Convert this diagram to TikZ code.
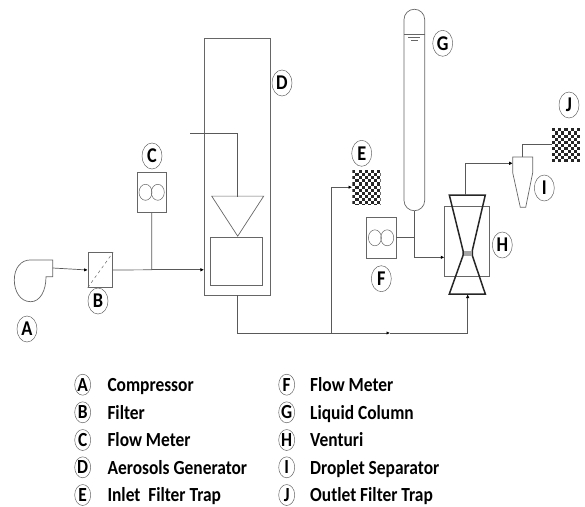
\documentclass[tikz,border=0pt]{standalone}
\usepackage{fontspec}
\setmainfont[FakeStretch=0.87]{Carlito}
\usetikzlibrary{arrows.meta, calc, positioning, shapes.geometric}

\tikzset{
	pipe/.style={draw=black!65, line width=0.7pt},
	flow/.style={pipe, -{Latex[length=3.5pt, width=3.5pt, black]}},
	unit/.style={draw=black!60, line width=0.7pt, inner sep=0pt},
	tag/.style={draw=black!60, line width=0.5pt, ellipse, inner sep=0pt, minimum width=20pt, minimum height=26pt, font=\bfseries\fontsize{21}{21}\selectfont},
	key/.style={tag, minimum width=16pt, minimum height=21pt, font=\bfseries\fontsize{20}{20}\selectfont},
	item/.style={inner sep=0pt, anchor=base west, font=\bfseries\fontsize{20}{20}\selectfont},
	trap/.style={inner sep=0pt, path picture={
		\foreach \i in {0,...,9}
		\foreach \j in {0,...,11}{
			\pgfmathtruncatemacro{\odd}{mod(\i+\j,2)}
			\ifnum\odd=0
			\fill[black!85] ($(path picture bounding box.north west)+(\i*3.1,\j*3.1)$) rectangle +(3.1,3.1);
			\fi
		}}},
}

\begin{document}
\begin{tikzpicture}[x=1pt, y=-1pt]
	\useasboundingbox (0,0) rectangle (585,506);
	
	% equipment
	\node[unit, minimum width=24.7pt, minimum height=34.6pt] (filter) at (100.4,270) {};
	\node[unit, minimum width=29.7pt, minimum height=40.7pt] (meterC) at (151.8,192.3) {};
	\node[unit, minimum width=66pt, minimum height=257pt] (generator) at (237.3,166.5) {};
	\node[unit, minimum width=52pt, minimum height=48.4pt] (chamber) at (236.3,261.5) {};
	\node[trap, minimum width=28.4pt, minimum height=34.3pt] (trapE) at (366.5,187.2) {};
	\node[unit, minimum width=29.7pt, minimum height=41pt] (meterF) at (381.2,237.8) {};
	\node[unit, minimum width=45pt, minimum height=70pt] (jacket) at (467.2,241.3) {};
	\node[trap, minimum width=27.7pt, minimum height=33pt] (trapJ) at (565.9,144.8) {};
	
	% compressor
	\draw[unit] (30,260) -- (52.7,260) -- (52.7,276.7) -- (46,276.7)
		.. controls (46,291) and (40,301.7) .. (30.7,301.7)
		.. controls (20,301.7) and (14.3,291) .. (14.3,280)
		.. controls (14.3,268) and (21,260) .. (30,260);
	\coordinate (outA) at (52.7,268);
	
	% filter element
	\draw[unit, dashed, line width=0.5pt] (filter.south west) -- (filter.north east);
	
	% rotors of the flow meters
	\foreach \m in {meterC, meterF}{
		\draw[unit, line width=0.5pt] ($(\m)+(-6.3,0)$) ellipse (6.5 and 8);
		\draw[unit, line width=0.5pt] ($(\m)+(6,0)$) ellipse (6.5 and 8);
	}
	
	% generator insides
	\node[unit, isosceles triangle, isosceles triangle apex angle=66, shape border rotate=90, yscale=-1, minimum height=40pt, minimum width=52pt, anchor=apex] (cone) at (237.7,236.8) {};
	\coordinate (feedD) at (190,133);
	
	% liquid column
	\draw[unit] (404,19.6) arc[start angle=180, end angle=360, radius=10.35]
		-- (424.7,200.4) arc[start angle=0, end angle=180, radius=10.35] -- cycle;
	\coordinate (columnG) at (414.3,210.7);
	\draw[unit, line width=0.5pt] (404,34.3) -- (424.7,34.3);
	\draw[unit, line width=0.5pt] (408.3,37.3) -- (420,37.3);
	\draw[unit, line width=0.5pt] (411,40) -- (418.3,40);
	
	% venturi
	\draw[black!85, line width=1.5pt, line join=miter] (449.3,195) coordinate (vTL) -- (485.3,195) -- (472.3,250.5) -- (472.3,255.5) -- (485.3,294) -- (449.3,294) -- (463,255.5) -- (463,250.5) -- cycle;
	\fill[black!35] (464,250.5) rectangle (471.5,255.5);
	\coordinate (inV) at (467.7,294.5);
	\coordinate (outV) at (465.3,195);
	
	% separator
	\draw[unit] (512.7,157) -- (532.7,157) -- (532.7,172.7) -- (525.7,207.3) -- (520.3,207.3) -- (512.7,172.7) -- cycle;
	\coordinate (inI) at (512.7,163.3);
	\coordinate (outI) at (522.7,157);
	
	% pipes
	\coordinate (main) at (151.8,269.8);
	\coordinate (bendD) at (237.7,333);
	\coordinate (bendE) at (331,333);
	\draw[flow] (outA) -- (filter.west);
	\draw[pipe] (filter.east) -- (main) -- (meterC.south);
	\draw[flow] (main) -- (main -| generator.west);
	\draw[pipe] (feedD) -- (feedD -| cone.apex) -- (cone.apex |- 0,196.8);
	\draw[pipe] (generator.south -| bendD) -- (bendD) -- (bendE);
	\draw[flow] (bendE) -- (390,333);
	\draw[pipe] (390,333) -| (inV);
	\draw[flow] (467.7,300) -- (inV);
	\draw[flow] (bendE) |- (trapE.west);
	\draw[pipe] (meterF.east) -- (meterF.east -| columnG);
	\draw[flow] (columnG) |- (jacket.west |- 0,257.3);
	\draw[flow] (outV) |- (inI);
	\draw[pipe] (outI) |- (trapJ.west);
	
	% labels
	\node[tag] (tagA) at (27,329) {A};
	\node[tag] (tagB) at (98,301) {B};
	\node[tag] (tagC) at (152,156) {C};
	\node[tag] (tagD) at (282,83) {D};
	\node[tag] (tagE) at (361.7,153.3) {E};
	\node[tag] (tagF) at (381.3,278.7) {F};
	\node[tag] (tagG) at (442.7,43.3) {G};
	\node[tag] (tagH) at (502.3,245) {H};
	\node[tag] (tagI) at (544.3,188) {I};
	\node[tag] (tagJ) at (569,105) {J};
	
	% legend
	\foreach \k/\name/\y in {A/Compressor/384.7, B/Filter/412.3, C/Flow Meter/440, D/Aerosols Generator/467.3, E/Inlet\ \ Filter Trap/495}{
		\node[key] (key\k) at (82.7,\y) {\k};
		\node[item] (item\k) at (107.3,\y+6.7) {\name};
	}
	\foreach \k/\name/\y in {F/Flow Meter/384.7, G/Liquid Column/412.3, H/Venturi/440, I/Droplet Separator/467.3, J/Outlet Filter Trap/495}{
		\node[key] (key\k) at (286.7,\y) {\k};
		\node[item] (item\k) at (310,\y+6.7) {\name};
	}
\end{tikzpicture}
\end{document}
